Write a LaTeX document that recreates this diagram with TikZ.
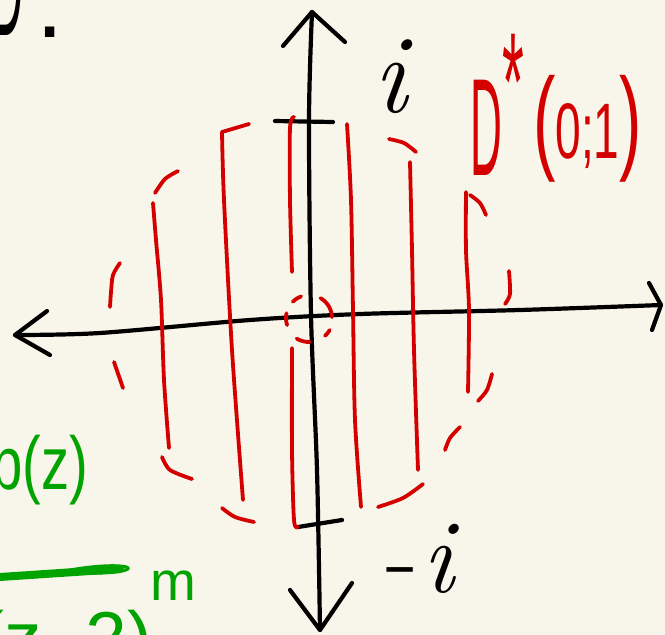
\documentclass[tikz,border=0pt]{standalone}
\usepackage{fontspec}
\newfontfamily\hand{Liberation Sans}
\usepackage{graphicx}
\definecolor{paper}{HTML}{F8F6EA}
\definecolor{redink}{HTML}{D40000}
\definecolor{greenink}{HTML}{00A300}
\tikzset{
  axisline/.style={black, line width=4.2pt, line cap=round, line join=round},
  redline/.style={redink, line width=3.8pt, line cap=round, line join=round},
  greenline/.style={greenink, line cap=round, line join=round},
  hlabel/.style={inner sep=0pt, outer sep=0pt},
  bigD/.style={hlabel, anchor=base west, xscale=0.63, yscale=1.98, font=\hand\fontsize{70}{70}\selectfont},
}
\begin{document}
\begin{tikzpicture}[x=1pt,y=-1pt]
\useasboundingbox (0,0) rectangle (665,635);
\fill[paper] (0,0) rectangle (665,635);
\begin{scope}
\clip (0,0) rectangle (665,635);
% ---------- axes ----------
\coordinate (ytop) at (312,12);
\coordinate (ybot) at (320,630);
\coordinate (xleft) at (15,335);
\coordinate (xright) at (661,305);
\coordinate (ytl) at (283,46);
\coordinate (ytr) at (345,42);
\coordinate (ybl) at (290,590);
\coordinate (ybr) at (352,583);
\coordinate (xlt) at (47,311);
\coordinate (xlb) at (50,355);
\coordinate (xrt) at (649,283);
\coordinate (xrb) at (652,330);
\draw[axisline] plot[smooth] coordinates {(ytop) (309,120) (311,315) (317,470) (ybot)};
\draw[axisline] plot[smooth] coordinates {(xleft) (100,333) (250,320) (360,314) (520,310) (xright)};
\draw[axisline] (ytl) -- (ytop) -- (ytr);
\draw[axisline] (ybl) -- (ybot) -- (ybr);
\draw[axisline] (xlt) -- (xleft) -- (xlb);
\draw[axisline] (xrt) -- (xright) -- (xrb);
% ticks
\coordinate (tick1a) at (275,121);
\coordinate (tick1b) at (333,122);
\coordinate (tick2a) at (298,527);
\coordinate (tick2b) at (342,520);
\draw[axisline] (tick1a) -- (tick1b);
\draw[axisline] (tick2a) -- (tick2b);
% ---------- red sketch ----------
\draw[redline] plot[smooth] coordinates {(120,263) (113,275) (111,292) (110,307)};
\draw[redline] (114,362) -- (123,388);
\draw[redline] plot[smooth] coordinates {(155,193) (165,179) (178,171)};
\draw[redline] plot[smooth] coordinates {(153,203) (156,240) (161,300) (164,380) (169,448)};
\draw[redline] plot[smooth] coordinates {(162,457) (170,470) (192,479)};
\draw[redline] (249,124) -- (222,132);
\draw[redline] plot[smooth] coordinates {(222,132) (224,200) (232,350) (243,500)};
\draw[redline] plot[smooth] coordinates {(222,508) (235,517) (254,522)};
\draw[redline] plot[smooth] coordinates {(294,117) (290,128) (290,200) (292,272)};
\draw[redline] plot[smooth] coordinates {(292,348) (292,450) (294,520) (298,527)};
\coordinate (o) at (309,318);
\draw[redline] (o) ++(225:23) arc[start angle=225, end angle=250, radius=23];
\draw[redline] (o) ++(300:23) arc[start angle=300, end angle=358, radius=23];
\draw[redline] (o) ++(30:24) arc[start angle=30, end angle=48, radius=24];
\draw[redline] (o) ++(88:24) arc[start angle=88, end angle=121, radius=24];
\draw[redline] (o) ++(162:23) arc[start angle=162, end angle=192, radius=23];
\draw[redline] plot[smooth] coordinates {(347,124) (351,200) (353,310) (355,420) (361,507)};
\draw[redline] plot[smooth] coordinates {(378,507) (403,498) (423,484)};
\draw[redline] plot[smooth] coordinates {(389,139) (404,143) (416,152)};
\draw[redline] plot[smooth] coordinates {(410,162) (412,250) (414,350) (418,470)};
\draw[redline] plot[smooth] coordinates {(445,450) (450,438) (460,427)};
\draw[redline] plot[smooth] coordinates {(478,401) (487,390) (492,374)};
\draw[redline] plot[smooth] coordinates {(466,192) (466,250) (469,310) (468,392)};
\draw[redline] plot[smooth] coordinates {(470,195) (480,203) (486,215)};
\draw[redline] plot[smooth] coordinates {(509,271) (510,294) (505,304)};
% ---------- labels ----------
\node[bigD] (topD) at (-9,35) {D};
\node[hlabel, anchor=base, scale=1.4, font=\hand\fontsize{70}{70}\selectfont] (topdot) at (50,37) {.};
\node[bigD, text=redink] (dD) at (470,175) {D};
\node[hlabel, text=redink, anchor=base west, xscale=0.8, yscale=2, font=\hand\fontsize{70}{70}\selectfont] (dstar) at (502,130) {*};
\node[hlabel, text=redink, anchor=base west, xscale=0.96, yscale=1.64, font=\hand] (dargs) at (533,158) {{\fontsize{70}{70}\selectfont(}{\fontsize{48}{48}\selectfont 0;1}{\fontsize{70}{70}\selectfont)}};
\node[hlabel, anchor=base, scale=1.6, font=\fontsize{70}{70}\selectfont\itshape] (ilab) at (390,112) {i};
\node[hlabel, anchor=base west, scale=1.5, font=\fontsize{70}{70}\selectfont] (milab) at (386,592) {-\kern3pt\textit{i}};
% green
\node[hlabel, text=greenink, anchor=base east, xscale=0.75, font=\hand\fontsize{75}{75}\selectfont] (pz) at (88,489) {p(z)};
\coordinate (bar1) at (0,577);
\coordinate (bar2) at (120,569);
\draw[greenline, line width=8pt] (bar1) -- (bar2);
\draw[greenline, line width=3pt] (70,570) .. controls (110,563) and (132,566) .. (128,569) .. controls (122,573) and (95,574) .. (62,573);
\node[hlabel, text=greenink, anchor=base west, font=\hand\fontsize{55}{55}\selectfont] (msup) at (150,600) {m};
\node[hlabel, text=greenink, anchor=base east, font=\hand\fontsize{75}{75}\selectfont] (den) at (152,664) {(z−2)};
\end{scope}
\end{tikzpicture}
\end{document}
